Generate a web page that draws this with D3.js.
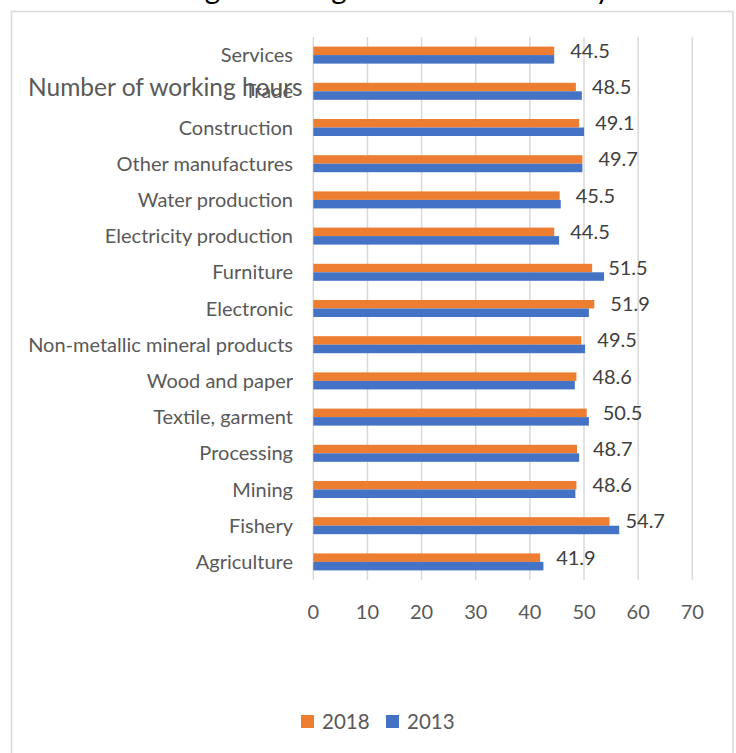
<!DOCTYPE html>
<html>
<head>
<meta charset="utf-8">
<script src="https://cdn.jsdelivr.net/npm/d3@7"></script>
<style>
  body { margin: 0; background: #fff; }
  text { font-family: Lato, "Open Sans", sans-serif; }
</style>
</head>
<body>
<div id="chart"></div>
<script>
const width = 736;
const height = 753;

// data, top to bottom as drawn
const sectors = ["Services", "Trade", "Construction", "Other manufactures", "Water production",
    "Electricity production", "Furniture", "Electronic", "Non-metallic mineral products",
    "Wood and paper", "Textile, garment", "Processing", "Mining", "Fishery", "Agriculture"];
const hours2018 = [44.5, 48.5, 49.1, 49.7, 45.5, 44.5, 51.5, 51.9, 49.5, 48.6, 50.5, 48.7, 48.6, 54.7, 41.9];
const hours2013 = [44.5, 49.6, 50.0, 49.7, 45.7, 45.4, 53.7, 50.9, 50.2, 48.3, 50.9, 49.1, 48.4, 56.5, 42.5];
const years = ["2018", "2013"];
const xTicks = [0, 10, 20, 30, 40, 50, 60, 70];

const colors = { "2018": "#ED7D31", "2013": "#4472C4" };
const textColor = "#595959";

const plot = { left: 313.3, right: 692.3, top: 37, bottom: 580 };

const svg = d3.select("#chart")
    .append("svg")
    .attr("width", width)
    .attr("height", height);

// chart area border
svg.append("rect")
    .attr("x", 11.5)
    .attr("y", 11.5)
    .attr("width", 721.5)
    .attr("height", 760)
    .attr("fill", "none")
    .attr("stroke", "#D9D9D9")
    .attr("stroke-width", 1.5);

// title, mostly clipped off the top
svg.append("text")
    .attr("x", 414)
    .attr("y", -1)
    .attr("text-anchor", "middle")
    .style("font-size", "29.5px")
    .attr("fill", "#000")
    .text("Average working hours of workers by sector");

const x = d3.scaleLinear()
    .domain([0, 70])
    .range([plot.left, plot.right]);

const y = d3.scaleBand()
    .domain(sectors)
    .range([plot.top, plot.bottom])
    .paddingInner(0.53)
    .paddingOuter(0.265);

const ySub = d3.scaleBand()
    .domain(years)
    .range([0, y.bandwidth()]);

// gridlines
svg.append("g")
    .selectAll("line")
    .data(xTicks)
    .enter()
    .append("line")
    .attr("x1", d => x(d))
    .attr("x2", d => x(d))
    .attr("y1", plot.top)
    .attr("y2", plot.bottom)
    .attr("stroke", "#D9D9D9")
    .attr("stroke-width", 1.5);

// x tick labels
svg.append("g")
    .selectAll("text")
    .data(xTicks)
    .enter()
    .append("text")
    .attr("x", d => x(d))
    .attr("y", 612)
    .attr("dy", "0.35em")
    .attr("text-anchor", "middle")
    .attr("fill", textColor)
    .style("font-size", "20px")
    .text(d => d);

const rows = sectors.map((s, i) => ({ sector: s, "2018": hours2018[i], "2013": hours2013[i] }));

// bars
const groups = svg.append("g")
    .selectAll("g")
    .data(rows)
    .enter()
    .append("g")
    .attr("transform", d => `translate(0, ${y(d.sector)})`);

groups.selectAll("rect")
    .data(d => years.map(k => ({ key: k, value: d[k] })))
    .enter()
    .append("rect")
    .attr("x", x(0))
    .attr("y", d => ySub(d.key))
    .attr("width", d => x(d.value) - x(0))
    .attr("height", ySub.bandwidth())
    .attr("fill", d => colors[d.key]);

// data labels for 2018
groups.append("text")
    .attr("x", d => x(d["2018"]) + 16)
    .attr("y", ySub("2018") + ySub.bandwidth() / 2)
    .attr("dy", "0.35em")
    .attr("fill", "#404040")
    .style("font-size", "20px")
    .text(d => d["2018"].toFixed(1));

// category labels
svg.append("g")
    .selectAll("text")
    .data(sectors)
    .enter()
    .append("text")
    .attr("x", 293)
    .attr("y", d => y(d) + y.bandwidth() / 2)
    .attr("dy", "0.35em")
    .attr("text-anchor", "end")
    .attr("fill", textColor)
    .style("font-size", "20px")
    .text(d => d);

// axis title that sits over the labels
svg.append("text")
    .attr("x", 28)
    .attr("y", 96)
    .attr("fill", textColor)
    .style("font-size", "24.5px")
    .text("Number of working hours");

// legend
const legend = svg.append("g")
    .selectAll("g")
    .data(years)
    .enter()
    .append("g")
    .attr("transform", (d, i) => `translate(${301 + i * 85}, 715)`);

legend.append("rect")
    .attr("width", 13)
    .attr("height", 13)
    .attr("fill", d => colors[d]);

legend.append("text")
    .attr("x", 21)
    .attr("y", 6.5)
    .attr("dy", "0.35em")
    .attr("fill", textColor)
    .style("font-size", "20.5px")
    .text(d => d);
</script>
</body>
</html>
